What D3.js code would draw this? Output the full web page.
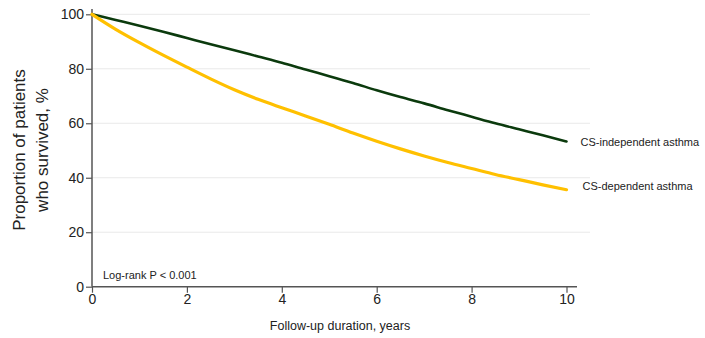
<!DOCTYPE html>
<html>
<head>
<meta charset="utf-8">
<script src="https://cdn.jsdelivr.net/npm/d3@7"></script>
<style>
  html, body { margin: 0; padding: 0; background: #fff; }
  svg { display: block; font-family: "Liberation Sans", Arial, sans-serif; }
</style>
</head>
<body>
<svg id="chart" width="705" height="338"></svg>
<script>
// Follow-up time points (years)
const years = [0, 0.5, 1, 1.5, 2, 2.5, 3, 3.5, 4, 4.5, 5, 5.5, 6, 6.5, 7, 7.5, 8, 8.5, 9, 9.5, 10];
// Survival (%) for each group
const csIndependent = [100, 97.9, 95.8, 93.6, 91.3, 89.0, 86.8, 84.5, 82.2, 79.7, 77.3, 74.8, 72.1, 69.6, 67.3, 64.8, 62.4, 60.0, 57.8, 55.6, 53.3];
const csDependent   = [100, 94.5, 89.6, 85.0, 80.6, 76.3, 72.3, 68.8, 65.7, 62.7, 59.6, 56.4, 53.4, 50.6, 48.0, 45.6, 43.4, 41.2, 39.3, 37.4, 35.6];
const seriesNames = ["CS-independent asthma", "CS-dependent asthma"];
const seriesColors = ["#0b3a0d", "#ffc000"];
const xTicks = [0, 2, 4, 6, 8, 10];
const yTicks = [0, 20, 40, 60, 80, 100];
const xTitle = "Follow-up duration, years";
const yTitle = ["Proportion of patients", "who survived, %"];
const note = "Log-rank P < 0.001";

const svg = d3.select("#chart");
const x = d3.scaleLinear().domain([0, 10]).range([92, 566.5]);
const y = d3.scaleLinear().domain([0, 100]).range([286.7, 14.3]);

// horizontal gridlines
svg.append("g").selectAll("line")
  .data(yTicks.filter(d => d > 0))
  .join("line")
  .attr("x1", x(0)).attr("x2", 590)
  .attr("y1", d => y(d)).attr("y2", d => y(d))
  .attr("stroke", "#e9e9e9").attr("stroke-width", 1);

// y axis
const yAxis = svg.append("g")
  .attr("transform", `translate(${x(0)},0)`)
  .call(d3.axisLeft(y).tickValues(yTicks).tickSize(6).tickPadding(2));
yAxis.select(".domain").remove();
yAxis.append("line").attr("x1", 0).attr("x2", 0).attr("y1", 9).attr("y2", y(0))
  .attr("stroke", "#555").attr("stroke-width", 1.5);

// x axis
const xAxis = svg.append("g")
  .attr("transform", `translate(0,${y(0)})`)
  .call(d3.axisBottom(x).tickValues(xTicks).tickSize(6).tickPadding(1));
xAxis.select(".domain").remove();
xAxis.append("line").attr("x1", x(0)).attr("x2", 577).attr("y1", 0).attr("y2", 0)
  .attr("stroke", "#555").attr("stroke-width", 1.5);

svg.selectAll(".tick line").attr("stroke", "#555").attr("stroke-width", 1.2);
svg.selectAll(".tick text").attr("fill", "#222").attr("font-size", 14)
  .attr("font-family", "Liberation Sans, Arial, sans-serif");

// survival curves
const line = d3.line().x((d, i) => x(years[i])).y(d => y(d)).curve(d3.curveMonotoneX);
[csIndependent, csDependent].forEach((vals, k) => {
  svg.append("path")
    .attr("d", line(vals))
    .attr("fill", "none")
    .attr("stroke", seriesColors[k])
    .attr("stroke-width", k === 0 ? 2.6 : 3.2)
    .attr("stroke-linejoin", "round")
    .attr("stroke-linecap", "round");
});

// end-of-curve labels
[csIndependent, csDependent].forEach((vals, k) => {
  svg.append("text")
    .attr("x", x(10) + (k === 0 ? 14 : 16))
    .attr("y", y(vals[vals.length - 1]) + (k === 0 ? 4 : 0))
    .attr("font-size", 11)
    .attr("fill", "#222")
    .text(seriesNames[k]);
});

// test annotation
svg.append("text")
  .attr("x", 103).attr("y", 279)
  .attr("font-size", 11).attr("fill", "#222")
  .text(note);

// axis titles
svg.append("text")
  .attr("x", (x(0) + 590) / 2 - 1).attr("y", 330)
  .attr("text-anchor", "middle")
  .attr("font-size", 12.5).attr("fill", "#222")
  .text(xTitle);

const yt = svg.append("text")
  .attr("transform", "translate(25,150) rotate(-90)")
  .attr("text-anchor", "middle")
  .attr("font-size", 17).attr("fill", "#222");
yt.append("tspan").attr("x", 0).attr("y", 0).text(yTitle[0]);
yt.append("tspan").attr("x", 0).attr("y", 23).text(yTitle[1]);
</script>
</body>
</html>
